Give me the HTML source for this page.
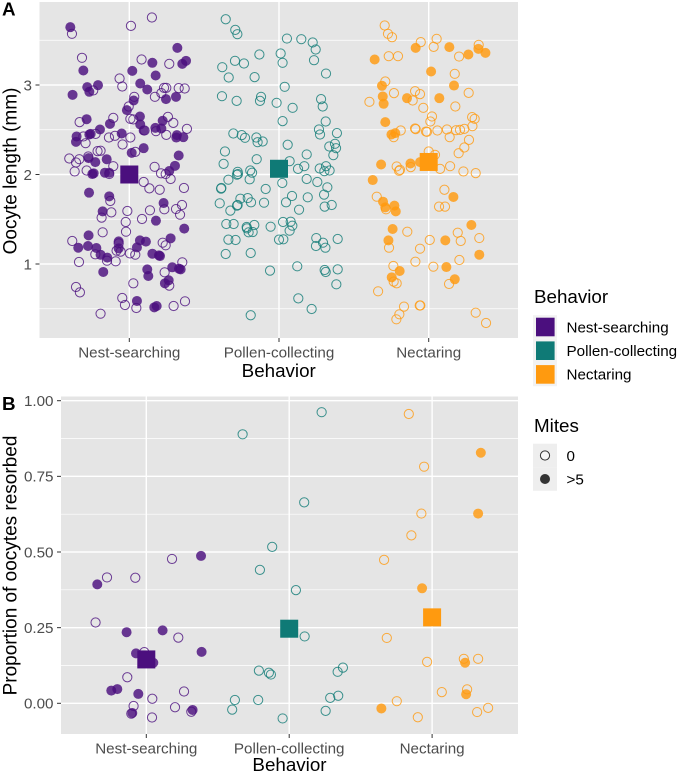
<!DOCTYPE html>
<html lang="en">
<head>
<meta charset="utf-8">
<title>Oocyte length and resorption by behavior</title>
<style>
html,body{margin:0;padding:0;background:#fff;}
svg{display:block;font-family:"Liberation Sans",Arial,sans-serif;}
</style>
</head>
<body>
<svg id="chart" xmlns="http://www.w3.org/2000/svg" width="679" height="774" viewBox="0 0 679 774"></svg>
<script>
const categories = ["Nest-searching", "Pollen-collecting", "Nectaring"];
const colors = ["#4b0f7e", "#0f7a76", "#ff9a0f"];

const lengthTicks = [1, 2, 3];
const lengthMinorTicks = [0.5, 1.5, 2.5, 3.5];
const proportionTicks = [0, 0.25, 0.5, 0.75, 1];
const proportionTickLabels = ["0.00", "0.25", "0.50", "0.75", "1.00"];
const proportionMinorTicks = [0.125, 0.375, 0.625, 0.875];

const lengthMeans = [2.0, 2.064, 2.14];
const proportionMeans = [0.145, 0.2465, 0.284];

/* Each point: [horizontal jitter in category units, value] */
const lengthNestFilled = [[-.394,3.646],[.321,3.415],[.154,3.248],[.354,3.236],[.379,3.27],[-.307,3.162],[.02,3.158],[.176,3.106],[.073,3.017],[.12,2.95],[-.281,2.976],[-.267,2.924],[-.209,2.998],[-.379,2.89],[.245,2.842],[.312,2.868],[.029,2.827],[-.016,2.719],[.071,2.648],[.073,2.559],[.096,2.492],[-.129,2.566],[-.285,2.618],[.223,2.6],[.174,2.521],[.214,2.514],[.314,2.413],[.318,2.44],[.361,2.417],[-.196,2.503],[-.258,2.454],[-.267,2.447],[-.352,2.425],[-.356,2.365],[-.051,2.458],[.096,2.294],[.016,2.242],[-.272,2.183],[-.227,2.138],[-.151,2.171],[.33,2.212],[.305,2.097],[-.247,2.005],[-.238,2.013],[-.163,2.02],[-.134,2.02],[.267,2.039],[-.269,1.797],[-.134,1.756],[.229,1.681],[-.178,1.588],[.178,1.484],[.367,1.395],[-.272,1.32],[-.341,1.182],[-.276,1.201],[-.22,1.179],[-.192,1.104],[-.147,1.071],[-.071,1.253],[-.071,1.175],[.051,1.186],[.071,1.264],[.111,1.25],[.276,1.287],[.154,1.115],[.198,1.097],[.205,1.089],[-.174,.911],[.287,.963],[.343,.94],[.332,.948],[.12,.94],[.127,.866],[.263,.818],[.238,.784],[.051,.587],[.167,.516],[.183,.531]];
const lengthNestOpen = [[-.383,3.572],[.011,3.661],[.151,3.754],[-.316,3.304],[.082,3.285],[.267,3.236],[-.065,3.073],[-.047,2.983],[-.241,2.939],[.232,2.968],[.247,2.968],[.214,2.909],[.171,2.868],[.33,2.965],[.37,2.961],[.033,2.868],[-.004,2.76],[.007,2.622],[.027,2.615],[.102,2.492],[-.107,2.633],[-.332,2.585],[.258,2.644],[.294,2.577],[.178,2.484],[.247,2.443],[.385,2.51],[-.225,2.454],[-.307,2.425],[-.292,2.35],[-.096,2.432],[-.136,2.413],[.007,2.413],[-.045,2.335],[.04,2.253],[-.401,2.179],[-.334,2.171],[-.356,2.134],[-.274,2.201],[-.212,2.261],[-.192,2.265],[.169,2.086],[-.107,2.093],[-.285,2.045],[-.365,2.034],[-.134,2.005],[.212,2.013],[.243,2.005],[.276,1.95],[.096,1.916],[.134,1.845],[.203,1.83],[.365,1.849],[-.127,1.704],[.234,1.611],[.352,1.659],[.312,1.614],[.339,1.551],[-.12,1.577],[-.185,1.518],[-.013,1.592],[.138,1.6],[.085,1.503],[-.024,1.469],[-.022,1.361],[-.178,1.354],[-.381,1.257],[-.227,1.108],[-.149,1.037],[-.091,1.03],[-.071,1.231],[-.085,1.149],[-.058,1.138],[.004,1.119],[.04,1.104],[.223,1.238],[.243,1.209],[-.336,1.022],[.354,1.019],[.236,.907],[.267,.758],[.027,.784],[-.356,.743],[-.33,.683],[-.047,.62],[-.029,.542],[.047,.508],[.296,.531],[.372,.583],[-.192,.445]];
const lengthPollenOpen = [[-.356,3.735],[-.292,3.616],[-.278,3.568],[.053,3.519],[.149,3.512],[.225,3.475],[.245,3.397],[-.131,3.341],[.011,3.352],[-.294,3.27],[-.234,3.24],[.024,3.248],[.234,3.277],[-.379,3.199],[-.336,3.084],[-.163,3.088],[.314,3.128],[.038,2.98],[-.381,2.875],[-.283,2.823],[-.12,2.868],[-.127,2.823],[-.016,2.801],[.091,2.745],[.281,2.842],[.292,2.76],[.024,2.596],[.312,2.592],[.267,2.503],[.274,2.447],[.387,2.462],[-.305,2.458],[-.249,2.44],[-.227,2.41],[-.151,2.413],[-.143,2.361],[-.109,2.369],[.058,2.332],[.336,2.313],[.374,2.343],[.381,2.294],[.363,2.216],[.185,2.224],[-.361,2.257],[-.149,2.171],[-.37,2.119],[.071,2.149],[.169,2.093],[.314,2.093],[.272,2.067],[.127,2.063],[-.192,2.045],[-.276,2.03],[.303,2.037],[.338,2.045],[-.281,1.998],[-.274,2.005],[-.18,2.02],[-.196,1.946],[-.338,1.942],[-.385,1.849],[-.387,1.842],[-.089,1.838],[.022,1.905],[.185,1.95],[.256,1.916],[.323,1.857],[.301,1.775],[.192,1.745],[.087,1.76],[.047,1.689],[-.258,1.73],[-.209,1.737],[-.187,1.689],[-.1,1.685],[-.396,1.678],[-.325,1.596],[-.281,1.652],[-.276,1.659],[.134,1.607],[.305,1.641],[.352,1.659],[-.352,1.447],[-.303,1.447],[-.165,1.436],[-.216,1.413],[-.214,1.398],[-.203,1.354],[-.176,1.357],[-.056,1.417],[.027,1.469],[.078,1.473],[.089,1.428],[.071,1.372],[-.338,1.272],[-.29,1.268],[0,1.272],[.029,1.276],[.249,1.29],[.294,1.238],[.247,1.201],[.31,1.182],[.392,1.279],[-.356,1.112],[-.189,1.123],[-.06,.926],[.122,.974],[.305,.933],[.312,.911],[.392,.94],[.383,.773],[.129,.616],[.218,.497],[-.189,.427]];
const lengthNectarFilled = [[-.087,3.415],[.138,3.423],[.332,3.404],[.379,3.359],[.265,3.341],[-.361,3.285],[.016,3.151],[-.312,2.991],[.169,2.994],[-.307,2.872],[-.301,2.79],[-.145,2.853],[.071,2.853],[-.29,2.585],[-.223,2.462],[-.249,2.447],[-.318,2.112],[-.122,2.123],[-.058,2.138],[-.374,1.938],[.165,1.749],[-.305,1.696],[-.29,1.633],[-.229,1.652],[-.22,1.588],[.285,1.436],[-.241,1.391],[-.269,1.264],[.111,1.264],[.338,1.104],[-.194,.922],[.118,.966],[-.247,.851],[.174,.829]];
const lengthNectarOpen = [[-.294,3.665],[-.272,3.572],[-.245,3.534],[-.053,3.479],[.053,3.516],[.033,3.426],[.334,3.449],[.203,3.318],[-.267,3.322],[-.205,3.322],[.174,3.125],[-.29,3.039],[-.232,2.909],[-.396,2.812],[-.091,2.931],[-.058,2.898],[-.107,2.827],[.267,2.912],[-.036,2.745],[.178,2.76],[.022,2.648],[.011,2.592],[.29,2.641],[.307,2.622],[.292,2.54],[-.187,2.492],[-.234,2.417],[-.091,2.514],[-.087,2.507],[-.018,2.48],[-.011,2.477],[.058,2.492],[.122,2.503],[.14,2.417],[.183,2.495],[.209,2.499],[.238,2.51],[.269,2.387],[.238,2.302],[.2,2.238],[0,2.257],[.042,2.22],[-.214,2.09],[-.12,2.082],[.143,2.093],[-.198,2.041],[.232,2.034],[.314,2.015],[.076,2.063],[-.192,2.052],[.105,1.83],[-.347,1.752],[-.285,1.611],[.069,1.641],[.109,1.641],[-.143,1.361],[.194,1.35],[-.265,1.182],[.007,1.268],[-.058,1.171],[.214,1.257],[.338,1.29],[.205,1.045],[-.089,1.026],[-.236,.978],[.031,.97],[-.234,.803],[-.214,.784],[.136,.777],[-.338,.695],[-.165,.524],[-.196,.438],[-.216,.382],[-.06,.536],[-.056,.536],[.314,.456],[.383,.341]];

const proportionNestFilled = [[.383,.487],[-.343,.393],[-.138,.235],[.114,.241],[.387,.17],[-.072,.165],[.049,.134],[-.245,.042],[-.203,.047],[-.056,.031],[-.098,-.032],[.324,-.022]];
const proportionNestOpen = [[.18,.477],[-.275,.416],[-.077,.415],[-.355,.267],[.224,.217],[-.014,.169],[-.133,.086],[.264,.039],[.042,.015],[-.089,-.009],[.201,-.013],[-.105,-.034],[.315,-.028],[.04,-.047]];
const proportionPollenOpen = [[.227,.962],[-.326,.889],[.105,.664],[-.119,.517],[-.205,.441],[.047,.374],[.108,.221],[-.212,.108],[-.142,.101],[-.128,.095],[.339,.104],[.376,.118],[.343,.025],[.287,.018],[.255,-.025],[-.046,-.05],[-.217,.011],[-.38,.011],[-.399,-.021]];
const proportionNectarFilled = [[.341,.828],[.322,.627],[-.07,.38],[.231,.134],[.238,.03],[-.355,-.017]];
const proportionNectarOpen = [[-.163,.956],[-.056,.782],[-.075,.627],[-.145,.555],[-.336,.474],[-.317,.216],[-.035,.137],[.222,.147],[.322,.147],[.068,.037],[.245,.046],[-.247,.007],[.392,-.015],[.315,-.029],[-.1,-.046]];

const svg = document.getElementById('chart');
const NS = 'http://www.w3.org/2000/svg';

function make(tag, attrs, parent, text) {
  const el = document.createElementNS(NS, tag);
  for (const k in attrs) el.setAttribute(k, attrs[k]);
  if (text !== undefined) el.textContent = text;
  (parent || svg).appendChild(el);
  return el;
}

function drawPanel(p) {
  const g = make('g', {}, svg);
  
  

  const bg = make('rect', {x: p.left, y: p.top, width: p.right - p.left, height: p.bottom - p.top, fill: '#e5e5e5'}, g);
  
  

  p.minor.forEach(v => {
    const line = make('line', {x1: p.left, x2: p.right, y1: p.y(v), y2: p.y(v), stroke: '#fff', 'stroke-width': 0.7}, g);
    
    
  });
  p.ticks.forEach((v, i) => {
    const line = make('line', {x1: p.left, x2: p.right, y1: p.y(v), y2: p.y(v), stroke: '#fff', 'stroke-width': 1.4}, g);
    
    
    const tick = make('line', {x1: p.left - 4, x2: p.left, y1: p.y(v), y2: p.y(v), stroke: '#333', 'stroke-width': 1}, g);
    
    
    const label = make('text', {x: p.left - 7.5, y: p.y(v) + 5.3, 'text-anchor': 'end', 'font-size': 15.2, fill: '#4d4d4d'}, g, p.tickLabels[i]);
    
    
  });
  categories.forEach((c, i) => {
    const line = make('line', {x1: p.x(i, 0), x2: p.x(i, 0), y1: p.top, y2: p.bottom, stroke: '#fff', 'stroke-width': 1.4}, g);
    
    
    const tick = make('line', {x1: p.x(i, 0), x2: p.x(i, 0), y1: p.bottom, y2: p.bottom + 4, stroke: '#333', 'stroke-width': 1}, g);
    
    
    const label = make('text', {x: p.x(i, 0), y: p.bottom + 19.5, 'text-anchor': 'middle', 'font-size': 15.2, fill: '#4d4d4d'}, g, c);
    
    
  });

  p.series.forEach(s => {
    s.filled.forEach(d => {
      const dot = make('circle', {cx: p.x(s.cat, d[0]), cy: p.y(d[1]), r: 5, fill: colors[s.cat], 'fill-opacity': 0.82}, g);
      
      
    });
    s.open.forEach(d => {
      const dot = make('circle', {cx: p.x(s.cat, d[0]), cy: p.y(d[1]), r: 4.6, fill: 'none', stroke: colors[s.cat], 'stroke-opacity': 0.8, 'stroke-width': 1}, g);
      
      
    });
  });

  p.means.forEach((m, i) => {
    const sq = make('rect', {x: p.x(i, 0) - 9, y: p.y(m) - 9, width: 18, height: 18, fill: colors[i]}, g);
    
    
  });

  const xTitle = make('text', {x: (p.left + p.right) / 2, y: p.xTitleY, 'text-anchor': 'middle', 'font-size': 18.8, fill: '#000'}, g, 'Behavior');
  
  
  const yTitle = make('text', {transform: 'translate(' + p.yTitleX + ',' + p.yTitleY + ') rotate(-90)', 'text-anchor': 'middle', 'font-size': 19, fill: '#000'}, g, p.yTitle);
  
  
  const tag = make('text', {x: 2, y: p.tagY, 'font-size': 18.8, 'font-weight': 'bold', fill: '#000'}, g, p.tag);
  
  
}

drawPanel({
  name: 'length', tag: 'A', tagY: 15.5, left: 39.5, right: 518, top: 2, bottom: 338,
  x: (i, j) => 129.3 + (i + j) * 149.7,
  y: v => 174.5 - (v - 2) * 89.5,
  ticks: lengthTicks, tickLabels: lengthTicks.map(String), minor: lengthMinorTicks,
  means: lengthMeans, xTitleY: 377, yTitleX: 16.5, yTitleY: 171, yTitle: 'Oocyte length (mm)',
  series: [
    {cat: 0, filled: lengthNestFilled, open: lengthNestOpen},
    {cat: 1, filled: [], open: lengthPollenOpen},
    {cat: 2, filled: lengthNectarFilled, open: lengthNectarOpen}
  ]
});

drawPanel({
  name: 'proportion', tag: 'B', tagY: 410, left: 61, right: 518, top: 396.5, bottom: 734,
  x: (i, j) => 146.3 + (i + j) * 142.9,
  y: v => 703.3 - v * 302.6,
  ticks: proportionTicks, tickLabels: proportionTickLabels, minor: proportionMinorTicks,
  means: proportionMeans, xTitleY: 771, yTitleX: 16.5, yTitleY: 565.5, yTitle: 'Proportion of oocytes resorbed',
  series: [
    {cat: 0, filled: proportionNestFilled, open: proportionNestOpen},
    {cat: 1, filled: [], open: proportionPollenOpen},
    {cat: 2, filled: proportionNectarFilled, open: proportionNectarOpen}
  ]
});

/* Legends */
const behaviorLegend = make('g', {}, svg);


const behaviorTitle = make('text', {x: 534, y: 303, 'font-size': 18.8, fill: '#000'}, behaviorLegend, 'Behavior');


categories.forEach((c, i) => {
  const cy = 327 + i * 23.7;
  const keyBg = make('rect', {x: 533, y: cy - 11.85, width: 24, height: 23.7, fill: '#f2f2f2'}, behaviorLegend);
  
  
  const swatch = make('rect', {x: 536, y: cy - 9.3, width: 18.6, height: 18.6, fill: colors[i]}, behaviorLegend);
  
  
  const label = make('text', {x: 566.5, y: cy + 5.3, 'font-size': 15.2, fill: '#000'}, behaviorLegend, c);
  
  
});

const mitesLabels = ["0", ">5"];
const mitesLegend = make('g', {}, svg);


const mitesTitle = make('text', {x: 534, y: 432, 'font-size': 18.8, fill: '#000'}, mitesLegend, 'Mites');


mitesLabels.forEach((m, i) => {
  const cy = 455.5 + i * 23.5;
  const keyBg = make('rect', {x: 533, y: cy - 11.75, width: 24, height: 23.5, fill: '#eeeeee'}, mitesLegend);
  
  
  const key = make('circle', i === 0
    ? {cx: 545, cy: cy, r: 4.6, fill: '#f6f6f6', stroke: '#333', 'stroke-width': 1}
    : {cx: 545, cy: cy, r: 5, fill: '#333'}, mitesLegend);
  
  
  const label = make('text', {x: 566.5, y: cy + 5.3, 'font-size': 15.2, fill: '#000'}, mitesLegend, m);
  
  
});
</script>
</body>
</html>
